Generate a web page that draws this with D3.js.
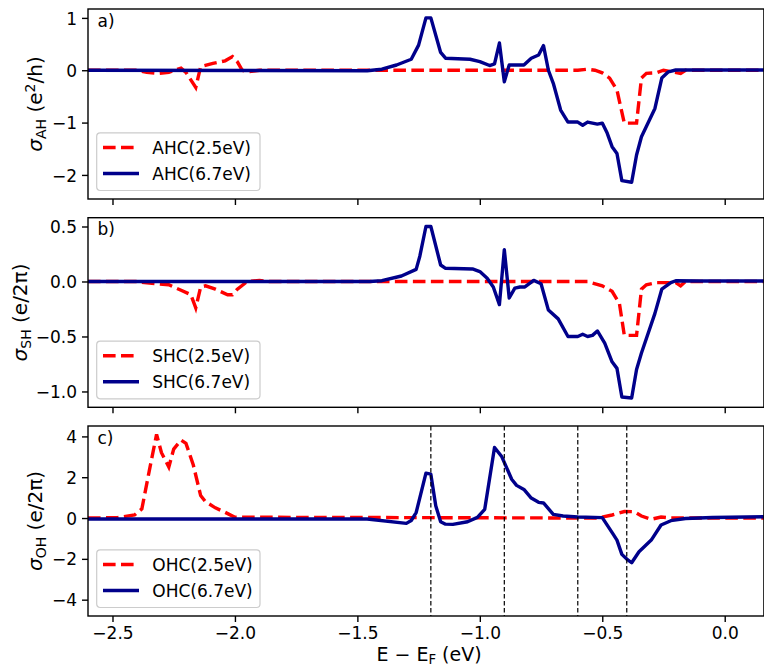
<!DOCTYPE html>
<html>
<head>
<meta charset="utf-8">
<script src="https://cdn.jsdelivr.net/npm/d3@7"></script>
<style>
  body { margin: 0; background: #fff; }
  text { font-family: "DejaVu Sans", sans-serif; }
</style>
</head>
<body>
<svg id="chart" width="764" height="667"></svg>
<script>
// values: energy (eV) and conductivity for each curve
const ahc25E = [-2.6, -2.40, -2.36, -2.31, -2.27, -2.22, -2.20, -2.16, -2.14, -2.09, -2.04, -2.01, -1.99, -1.97, -1.95, -1.90, -0.60, -0.56, -0.53, -0.50, -0.47, -0.44, -0.41, -0.36, -0.34, -0.32, -0.28, -0.25, -0.18, -0.16, 0.16];
const ahc25V = [0, 0, -0.04, -0.06, -0.04, 0.04, -0.04, -0.33, 0.07, 0.13, 0.18, 0.26, 0.16, 0.0, -0.03, 0, 0, 0.02, 0.0, -0.05, -0.15, -0.38, -1.01, -1.01, -0.15, -0.06, -0.05, 0, -0.06, 0, 0];
const ahc67E = [-2.6, -1.46, -1.40, -1.34, -1.28, -1.25, -1.22, -1.20, -1.16, -1.14, -1.04, -1.00, -0.96, -0.94, -0.92, -0.90, -0.88, -0.82, -0.79, -0.76, -0.74, -0.72, -0.70, -0.67, -0.64, -0.60, -0.58, -0.56, -0.54, -0.52, -0.50, -0.48, -0.46, -0.44, -0.42, -0.38, -0.36, -0.34, -0.285, -0.257, -0.23, -0.20, -0.10, 0.16];
const ahc67V = [0, -0.01, 0.02, 0.10, 0.21, 0.48, 1.0, 1.0, 0.34, 0.23, 0.21, 0.165, 0.09, 0.12, 0.52, -0.22, 0.10, 0.10, 0.23, 0.29, 0.47, 0.0, -0.25, -0.76, -0.99, -0.99, -1.05, -0.99, -1.01, -1.03, -1.01, -1.2, -1.46, -1.59, -2.11, -2.14, -1.62, -1.27, -0.73, -0.15, -0.03, 0.005, 0.005, 0.005];

const shc25E = [-2.6, -2.40, -2.37, -2.32, -2.27, -2.22, -2.18, -2.16, -2.14, -2.12, -2.08, -2.03, -2.01, -1.99, -1.95, -1.90, -1.86, -0.60, -0.56, -0.50, -0.46, -0.43, -0.41, -0.36, -0.34, -0.32, -0.28, -0.20, -0.18, -0.16, 0.16];
const shc25V = [0, 0, -0.01, -0.02, -0.03, -0.08, -0.12, -0.24, -0.05, -0.04, -0.07, -0.12, -0.12, -0.07, 0, 0.01, 0, 0, 0, -0.04, -0.09, -0.20, -0.49, -0.49, -0.07, -0.03, -0.01, -0.01, -0.04, 0, 0];
const shc67E = [-2.6, -1.45, -1.40, -1.32, -1.26, -1.245, -1.22, -1.20, -1.16, -1.14, -1.03, -1.00, -0.97, -0.945, -0.92, -0.90, -0.88, -0.857, -0.836, -0.816, -0.78, -0.75, -0.72, -0.68, -0.64, -0.60, -0.58, -0.56, -0.54, -0.52, -0.49, -0.46, -0.44, -0.42, -0.38, -0.36, -0.34, -0.285, -0.257, -0.22, -0.20, -0.10, 0.16];
const shc67V = [0, 0, 0.007, 0.05, 0.11, 0.23, 0.50, 0.50, 0.15, 0.12, 0.114, 0.09, 0.03, -0.05, -0.21, 0.29, -0.15, -0.06, -0.05, -0.05, 0.01, -0.02, -0.26, -0.34, -0.50, -0.50, -0.48, -0.50, -0.49, -0.45, -0.56, -0.73, -0.79, -1.05, -1.06, -0.80, -0.65, -0.29, -0.07, -0.01, 0.007, 0.005, 0.005];

const ohc25E = [-2.6, -2.48, -2.41, -2.38, -2.35, -2.32, -2.30, -2.27, -2.25, -2.22, -2.20, -2.17, -2.14, -2.12, -2.08, -2.04, -2.00, -0.52, -0.46, -0.41, -0.37, -0.34, -0.30, -0.26, -0.22, 0.16];
const ohc25V = [0, 0.02, 0.15, 0.45, 2.3, 4.1, 3.2, 2.5, 3.38, 3.82, 3.66, 2.6, 1.1, 0.8, 0.5, 0.28, 0.04, 0, 0.15, 0.32, 0.31, 0.1, -0.06, 0.05, 0, 0];
const ohc67E = [-2.6, -1.46, -1.30, -1.28, -1.26, -1.22, -1.20, -1.18, -1.16, -1.14, -1.11, -1.05, -1.01, -0.98, -0.94, -0.91, -0.87, -0.85, -0.82, -0.79, -0.76, -0.74, -0.70, -0.66, -0.60, -0.50, -0.455, -0.44, -0.42, -0.40, -0.38, -0.35, -0.30, -0.26, -0.22, -0.16, -0.05, 0.16];
const ohc67V = [-0.05, -0.05, -0.26, -0.12, 0.27, 2.2, 2.15, 0.6, -0.18, -0.30, -0.31, -0.18, 0.03, 0.43, 3.46, 3.0, 1.9, 1.6, 1.4, 0.98, 0.77, 0.74, 0.18, 0.10, 0.05, 0.02, -0.8, -1.08, -1.78, -2.01, -2.19, -1.65, -1.08, -0.34, -0.13, -0.02, 0.03, 0.06];

const xTicks = [-2.5, -2.0, -1.5, -1.0, -0.5, 0.0];
const ahcTicks = [-2, -1, 0, 1];
const shcTicks = [-1.0, -0.5, 0.0, 0.5];
const ohcTicks = [-4, -2, 0, 2, 4];
const markerE = [-1.2, -0.9, -0.6, -0.4];
const panelTags = ["a)", "b)", "c)"];
const ahcNames = ["AHC(2.5eV)", "AHC(6.7eV)"];
const shcNames = ["SHC(2.5eV)", "SHC(6.7eV)"];
const ohcNames = ["OHC(2.5eV)", "OHC(6.7eV)"];

const svg = d3.select("#chart");
const left = 88, right = 763.9;
const red = "#ff0000", blue = "#00008b";
const lw = 3.4;

const x = d3.scaleLinear().domain([-2.6, 0.16]).range([left, right]);

const panels = [
  { top: 9, bottom: 199, dom: [-2.46, 1.17], ticks: ahcTicks, fmt: d3.format("d"), labelX: 42,
    red: [ahc25E, ahc25V], blue: [ahc67E, ahc67V], names: ahcNames, sub: "AH", unit: "e2h" },
  { top: 217.7, bottom: 407.3, dom: [-1.144, 0.58], ticks: shcTicks, fmt: d3.format(".1f"), labelX: 27,
    red: [shc25E, shc25V], blue: [shc67E, shc67V], names: shcNames, sub: "SH", unit: "e2pi" },
  { top: 426, bottom: 616, dom: [-4.8, 4.51], ticks: ohcTicks, fmt: d3.format("d"), labelX: 42,
    red: [ohc25E, ohc25V], blue: [ohc67E, ohc67V], names: ohcNames, sub: "OH", unit: "e2pi" }
];

panels.forEach((p, i) => {
  const y = d3.scaleLinear().domain(p.dom).range([p.bottom, p.top]);
  const g = svg.append("g");

  const clipId = "clip" + i;
  svg.append("clipPath").attr("id", clipId)
    .append("rect")
    .attr("x", left).attr("y", p.top)
    .attr("width", right - left).attr("height", p.bottom - p.top);

  const line = d3.line().x(d => x(d[0])).y(d => y(d[1]));
  const plot = g.append("g").attr("clip-path", `url(#${clipId})`);

  plot.append("path")
    .datum(d3.zip(p.red[0], p.red[1]))
    .attr("d", line)
    .attr("fill", "none")
    .attr("stroke", red)
    .attr("stroke-width", lw)
    .attr("stroke-dasharray", "12.6,5.4");

  plot.append("path")
    .datum(d3.zip(p.blue[0], p.blue[1]))
    .attr("d", line)
    .attr("fill", "none")
    .attr("stroke", blue)
    .attr("stroke-width", lw)
    .attr("stroke-linejoin", "round");

  // dashed markers only in the orbital panel
  if (i === 2) {
    plot.selectAll(".vl")
      .data(markerE)
      .join("line")
      .attr("x1", d => x(d)).attr("x2", d => x(d))
      .attr("y1", p.top).attr("y2", p.bottom)
      .attr("stroke", "#000")
      .attr("stroke-width", 1.2)
      .attr("stroke-dasharray", "4.5,2.5");
  }

  // axes
  const yAxis = g.append("g")
    .attr("transform", `translate(${left},0)`)
    .call(d3.axisLeft(y).tickValues(p.ticks).tickFormat(p.fmt).tickSize(6).tickPadding(5));
  const xAxis = g.append("g")
    .attr("transform", `translate(0,${p.bottom})`)
    .call(d3.axisBottom(x).tickValues(xTicks).tickSize(6).tickPadding(5)
      .tickFormat(i === 2 ? d3.format(".1f") : ""));
  [yAxis, xAxis].forEach(a => {
    a.select(".domain").remove();
    a.selectAll(".tick line").attr("stroke", "#000").attr("stroke-width", 1.4);
    a.selectAll(".tick text")
      .attr("fill", "#000")
      .style("font-size", "17px")
      .style("font-family", "DejaVu Sans");
  });
  yAxis.selectAll(".tick text").attr("dy", "0.36em");
  xAxis.selectAll(".tick text").attr("dy", "0.73em");

  g.append("rect")
    .attr("x", left).attr("y", p.top)
    .attr("width", right - left).attr("height", p.bottom - p.top)
    .attr("fill", "none")
    .attr("stroke", "#000")
    .attr("stroke-width", 1.4);

  // panel tag
  g.append("text")
    .attr("x", 97.5).attr("y", p.top + 17.5)
    .style("font-size", "17px")
    .text(panelTags[i]);

  // y label
  const cy = (p.top + p.bottom) / 2;
  const yl = g.append("text")
    .attr("transform", `translate(${p.labelX},${cy}) rotate(-90)`)
    .attr("text-anchor", "middle")
    .style("font-size", "20px");
  yl.append("tspan").attr("font-style", "italic").text("σ");
  yl.append("tspan").attr("dy", 4).style("font-size", "14px").text(p.sub);
  if (p.unit === "e2h") {
    yl.append("tspan").attr("dy", -4).text(" (e");
    yl.append("tspan").attr("dy", -7.5).style("font-size", "14px").text("2");
    yl.append("tspan").attr("dy", 7.5).text("/h)");
  } else {
    yl.append("tspan").attr("dy", -4).text(" (e/2π)");
  }

  // legend
  const lgBottom = p.bottom - 8.5, lgH = 57.7;
  const lg = g.append("g").attr("transform", `translate(96.7,${lgBottom - lgH})`);
  lg.append("rect")
    .attr("width", 163.3).attr("height", lgH)
    .attr("rx", 3.5)
    .attr("fill", "#fff").attr("fill-opacity", 0.8)
    .attr("stroke", "#cccccc").attr("stroke-width", 1.2);
  const items = [
    { name: p.names[0], color: red, dash: "12.6,5.4" },
    { name: p.names[1], color: blue, dash: null }
  ];
  items.forEach((it, k) => {
    const yy = 14.7 + k * 26;
    lg.append("line")
      .attr("x1", 6.3).attr("x2", 42.3)
      .attr("y1", yy).attr("y2", yy)
      .attr("stroke", it.color)
      .attr("stroke-width", lw)
      .attr("stroke-dasharray", it.dash);
    lg.append("text")
      .attr("x", 55.6).attr("y", yy)
      .attr("dy", "0.36em")
      .style("font-size", "17px")
      .text(it.name);
  });
});

// x label
const xl = svg.append("text")
  .attr("x", 429).attr("y", 660.5)
  .attr("text-anchor", "middle")
  .style("font-size", "19px");
xl.append("tspan").text("E − E");
xl.append("tspan").attr("dy", 3.5).style("font-size", "13.3px").text("F");
xl.append("tspan").attr("dy", -3.5).text(" (eV)");
</script>
</body>
</html>
